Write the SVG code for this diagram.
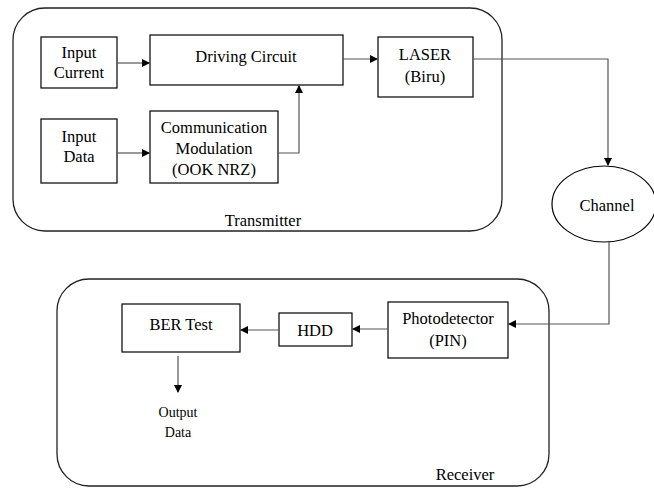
<svg xmlns="http://www.w3.org/2000/svg" width="654" height="488" viewBox="0 0 654 488">
<style>
.box{fill:#fff;stroke:#000;stroke-width:1.2}
.cont{fill:none;stroke:#222;stroke-width:1.3}
.c{fill:none;stroke:#555;stroke-width:1.2}
.t{font-family:'Liberation Serif','Times New Roman',serif;font-size:16.5px;fill:#000;text-anchor:middle}
.s{font-size:14px}
</style>
<defs>
<marker id="ah" markerWidth="8" markerHeight="8" refX="7" refY="4" orient="auto" markerUnits="userSpaceOnUse">
<path d="M0,0 L8,4 L0,8 z" fill="#000"/>
</marker>
</defs>
<rect width="654" height="488" fill="#fff"/>
<g id="transmitter">
<rect class="cont" x="13" y="8" width="489" height="223" rx="32" ry="32"/>
<text class="t" x="263" y="226">Transmitter</text>
</g>
<g id="receiver">
<rect class="cont" x="57" y="279" width="492" height="207" rx="32" ry="32"/>
<text class="t" x="465" y="480">Receiver</text>
</g>
<g id="input-current">
<rect class="box" x="41" y="37" width="76" height="51"/>
<text class="t" x="79" y="58">Input</text>
<text class="t" x="79" y="78">Current</text>
</g>
<g id="driving-circuit">
<rect class="box" x="150" y="35" width="193" height="50"/>
<text class="t" x="246" y="62">Driving Circuit</text>
</g>
<g id="input-data">
<rect class="box" x="41" y="119" width="76" height="64"/>
<text class="t" x="79" y="142">Input</text>
<text class="t" x="79" y="162">Data</text>
</g>
<g id="comm-modulation">
<rect class="box" x="150" y="111" width="128" height="72"/>
<text class="t" x="214" y="133">Communication</text>
<text class="t" x="214" y="154">Modulation</text>
<text class="t" x="214" y="175">(OOK NRZ)</text>
</g>
<g id="laser">
<rect class="box" x="378" y="37" width="95" height="60"/>
<text class="t" x="425" y="60">LASER</text>
<text class="t" x="425" y="82">(Biru)</text>
</g>
<g id="channel">
<ellipse class="box" cx="604" cy="204" rx="52" ry="38"/>
<text class="t" x="607" y="211">Channel</text>
</g>
<g id="photodetector">
<rect class="box" x="388" y="302" width="120" height="56"/>
<text class="t" x="448" y="324">Photodetector</text>
<text class="t" x="448" y="346">(PIN)</text>
</g>
<g id="hdd">
<rect class="box" x="279" y="313" width="73" height="33"/>
<text class="t" x="315" y="336">HDD</text>
</g>
<g id="ber-test">
<rect class="box" x="122" y="304" width="118" height="48"/>
<text class="t" x="181" y="330">BER Test</text>
</g>
<g id="output-data">
<text class="t s" x="178" y="417">Output</text>
<text class="t s" x="178" y="437">Data</text>
</g>
<g id="connectors">
<path class="c" d="M117,63 H149" marker-end="url(#ah)"/>
<path class="c" d="M117,153 H149" marker-end="url(#ah)"/>
<path class="c" d="M278,153 H299 V86" marker-end="url(#ah)"/>
<path class="c" d="M343,59 H377" marker-end="url(#ah)"/>
<path class="c" d="M473,59 H608 V165" marker-end="url(#ah)"/>
<path class="c" d="M609,242 V324 H509" marker-end="url(#ah)"/>
<path class="c" d="M388,329 H353" marker-end="url(#ah)"/>
<path class="c" d="M279,330 H241" marker-end="url(#ah)"/>
<path class="c" d="M178,356 V392" marker-end="url(#ah)"/>
</g>
</svg>
